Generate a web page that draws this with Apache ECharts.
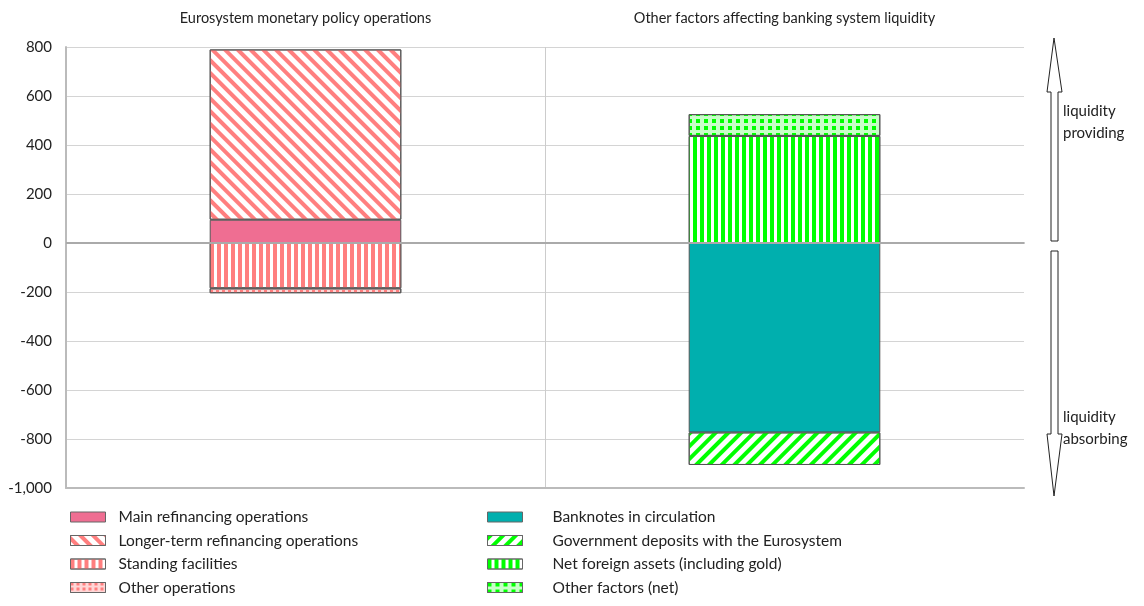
<!DOCTYPE html>
<html>
<head>
<meta charset="utf-8">
<script src="https://cdn.jsdelivr.net/npm/echarts@6/dist/echarts.min.js"></script>
<style>
html,body{margin:0;padding:0;background:#fff;}
#chart{width:1144px;height:606px;}
</style>
</head>
<body>
<div id="chart"></div>
<script>
// ---- data ----
const categories = ['Eurosystem monetary policy operations', 'Other factors affecting banking system liquidity'];
const mainRefinancing = [95, '-'];
const longerTerm = [695, '-'];
const standingFacilities = [-185, '-'];
const otherOperations = [-20, '-'];
const banknotes = ['-', -773];
const govDeposits = ['-', -133];
const netForeignAssets = ['-', 437];
const otherFactors = ['-', 89];
const yMin = -1000, yMax = 800, yStep = 200;

const FONT = 'Lato, "Open Sans", sans-serif';
const PINK = '#FF7F7F';
const GREEN = '#00FF00';

function bar(name, data, itemStyle) {
  return {
    name: name, type: 'bar', stack: 'total', data: data, barWidth: '40%',
    itemStyle: Object.assign({ borderColor: '#555', borderWidth: 1 }, itemStyle),
    emphasis: { disabled: true }
  };
}

const series = [
  bar('Main refinancing operations', mainRefinancing, { color: '#EF6E92' }),
  bar('Longer-term refinancing operations', longerTerm, {
    color: '#fff',
    decal: { symbol: 'rect', symbolSize: 1, color: PINK, dashArrayX: [1, 0], dashArrayY: [4, 4.5], rotation: Math.PI / 4 }
  }),
  bar('Standing facilities', standingFacilities, {
    color: '#fff',
    decal: { symbol: 'rect', symbolSize: 1, color: PINK, dashArrayX: [4, 3], dashArrayY: [1, 0], rotation: 0 }
  }),
  bar('Other operations', otherOperations, {
    color: '#FFD6D6',
    decal: { symbol: 'rect', symbolSize: 1, color: PINK, dashArrayX: [3, 3], dashArrayY: [3, 2], rotation: 0 }
  }),
  bar('Banknotes in circulation', banknotes, { color: '#00AFAE' }),
  bar('Government deposits with the Eurosystem', govDeposits, {
    color: '#fff',
    decal: { symbol: 'rect', symbolSize: 1, color: GREEN, dashArrayX: [1, 0], dashArrayY: [4, 4.5], rotation: -Math.PI / 4 }
  }),
  bar('Net foreign assets (including gold)', netForeignAssets, {
    color: '#fff',
    decal: { symbol: 'rect', symbolSize: 1, color: GREEN, dashArrayX: [4, 3], dashArrayY: [1, 0], rotation: 0 }
  }),
  bar('Other factors (net)', otherFactors, {
    color: '#C8FFC8',
    decal: { symbol: 'rect', symbolSize: 1, color: GREEN, dashArrayX: [4, 4], dashArrayY: [4, 3], rotation: 0 }
  })
];

series[0].markLine = {
  silent: true, symbol: 'none', label: { show: false },
  lineStyle: { color: '#aaa', width: 2, type: 'solid' },
  data: [{ yAxis: 0 }]
};

const legendText = { fontFamily: FONT, fontSize: 15.5, color: '#222', lineHeight: 16 };

const option = {
  animation: false,
  backgroundColor: '#fff',
  grid: { left: 66, right: 120, top: 47, bottom: 118 },
  xAxis: [{
    type: 'category', data: categories, position: 'top',
    axisLine: { show: true, lineStyle: { color: '#bbb', width: 2 } },
    axisTick: { show: false },
    axisLabel: { fontFamily: FONT, fontSize: 14.5, color: '#222', margin: 21 },
    splitLine: { show: true, showMinLine: false, showMaxLine: false, lineStyle: { color: '#ccc', width: 1 } }
  }, {
    type: 'category', data: categories, position: 'bottom',
    axisLine: { show: true, onZero: false, lineStyle: { color: '#bbb', width: 2 } },
    axisTick: { show: false }, axisLabel: { show: false }
  }],
  yAxis: {
    type: 'value', min: yMin, max: yMax, interval: yStep,
    axisLine: { show: true, lineStyle: { color: '#bbb', width: 2 } },
    axisTick: { show: false },
    axisLabel: {
      fontFamily: FONT, fontSize: 15, color: '#222', margin: 14,
      formatter: v => v.toLocaleString('en-US')
    },
    splitLine: { show: true, lineStyle: { color: '#d4d4d4', width: 1 } }
  },
  legend: [{
    orient: 'vertical', left: 65, top: 504, itemWidth: 35, itemHeight: 10, itemGap: 7.5,
    icon: 'rect', selectedMode: false,
    itemStyle: { borderWidth: 1, borderColor: '#666' },
    data: series.slice(0, 4).map(s => s.name),
    textStyle: Object.assign({ padding: [0, 0, 0, 8] }, legendText)
  }, {
    orient: 'vertical', left: 482, top: 504, itemWidth: 35, itemHeight: 10, itemGap: 7.5,
    icon: 'rect', selectedMode: false,
    itemStyle: { borderWidth: 1, borderColor: '#666' },
    data: series.slice(4).map(s => s.name),
    textStyle: Object.assign({ padding: [0, 0, 0, 25] }, legendText)
  }],
  series: series,
  graphic: [
    { type: 'polygon', shape: { points: [[1054, 38], [1062, 92], [1058, 92], [1058, 241], [1051, 241], [1051, 92], [1047, 92]] },
      style: { fill: '#fff', stroke: '#222', lineWidth: 1 }, silent: true },
    { type: 'polygon', shape: { points: [[1051, 251], [1058, 251], [1058, 434], [1062, 434], [1054, 496], [1047, 434], [1051, 434]] },
      style: { fill: '#fff', stroke: '#222', lineWidth: 1 }, silent: true },
    { type: 'text', left: 1063, top: 104, style: { text: 'liquidity', fontFamily: FONT, fontSize: 15, fill: '#222' } },
    { type: 'text', left: 1063, top: 126, style: { text: 'providing', fontFamily: FONT, fontSize: 15, fill: '#222' } },
    { type: 'text', left: 1063, top: 410, style: { text: 'liquidity', fontFamily: FONT, fontSize: 15, fill: '#222' } },
    { type: 'text', left: 1063, top: 432, style: { text: 'absorbing', fontFamily: FONT, fontSize: 15, fill: '#222' } }
  ]
};

const chart = echarts.init(document.getElementById('chart'), null, { renderer: 'canvas' });
chart.setOption(option);
</script>
</body>
</html>
